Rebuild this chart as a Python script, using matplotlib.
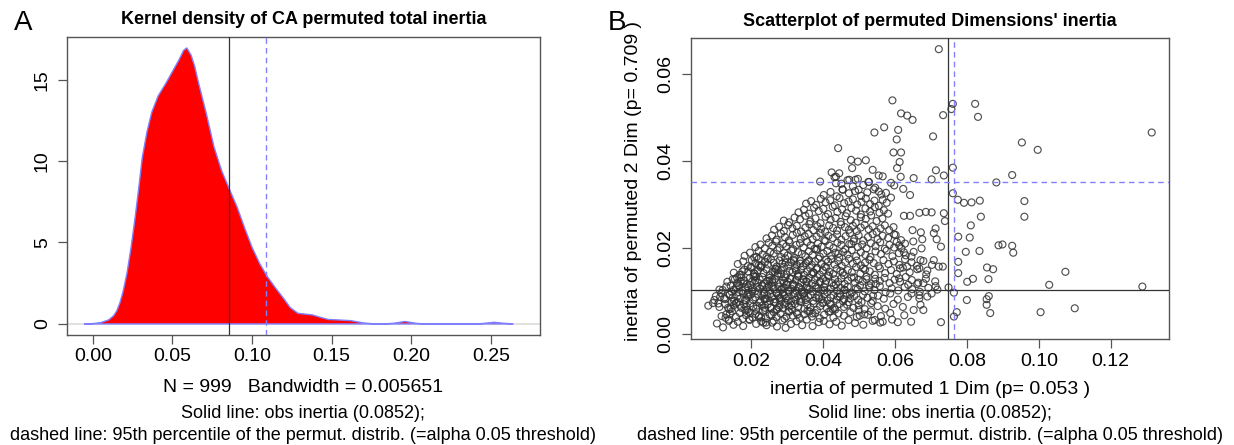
import matplotlib
matplotlib.use("Agg")
import matplotlib.pyplot as plt

plt.rcParams['font.family'] = ['Liberation Sans', 'DejaVu Sans']

# kernel density of permuted total inertia
dens_x = [-0.0055, 0.000, 0.005, 0.010, 0.013, 0.015, 0.017, 0.019, 0.0214, 0.024,
          0.0265, 0.029, 0.031, 0.034, 0.037, 0.041, 0.046, 0.050, 0.054, 0.057,
          0.059, 0.0617, 0.064, 0.0665, 0.0713, 0.076, 0.0809, 0.0852, 0.0905, 0.0953,
          0.100, 0.1048, 0.1096, 0.1144, 0.1192, 0.124, 0.1288, 0.1336, 0.138, 0.143,
          0.148, 0.153, 0.162, 0.170, 0.177, 0.182, 0.189, 0.196, 0.203, 0.208,
          0.242, 0.246, 0.252, 0.258, 0.264]
dens_y = [0.0, 0.02, 0.08, 0.25, 0.5, 0.8, 1.3, 2.0, 3.1, 4.7,
          6.5, 8.5, 10.2, 11.8, 13.0, 14.0, 14.8, 15.5, 16.2, 16.8,
          16.95, 16.5, 15.8, 14.75, 12.9, 10.9, 9.4, 8.4, 7.2, 5.9,
          4.7, 3.7, 2.9, 2.25, 1.64, 1.0, 0.65, 0.6, 0.55, 0.4,
          0.27, 0.25, 0.2, 0.06, 0.0, 0.0, 0.04, 0.15, 0.04, 0.0,
          0.0, 0.04, 0.1, 0.04, 0.0]

obs_total = 0.0852
q95_total = 0.109

# permuted inertia of dimension 1 / dimension 2 (estimated from the scatter)
dim1 = [
    0.0105, 0.0122, 0.0138, 0.0151, 0.0163, 0.0178, 0.0196, 0.0214, 0.0228, 0.0243,
    0.0259, 0.0272, 0.0287, 0.0296, 0.0311, 0.0326, 0.0342, 0.0355, 0.0371, 0.0388,
    0.0402, 0.0418, 0.0437, 0.0452, 0.0471, 0.0489, 0.0512, 0.0538, 0.0559, 0.0592,
    0.0118, 0.0129, 0.0141, 0.0147, 0.0158, 0.0169, 0.0177, 0.0186, 0.0193, 0.0204,
    0.0212, 0.0221, 0.0233, 0.0241, 0.0252, 0.0263, 0.0271, 0.0282, 0.0293, 0.0304,
    0.0316, 0.0327, 0.0335, 0.0348, 0.0357, 0.0369, 0.0378, 0.0391, 0.0403, 0.0416,
    0.0429, 0.0443, 0.0458, 0.0476, 0.0494, 0.0515, 0.0533, 0.0561, 0.0587, 0.0626,
    0.0081, 0.0094, 0.0112, 0.0127, 0.0139, 0.0152, 0.0161, 0.0173, 0.0181, 0.0189,
    0.0197, 0.0206, 0.0214, 0.0223, 0.0231, 0.0239, 0.0246, 0.0255, 0.0264, 0.0272,
    0.0279, 0.0288, 0.0297, 0.0305, 0.0314, 0.0322, 0.0331, 0.0339, 0.0348, 0.0356,
    0.0365, 0.0374, 0.0383, 0.0392, 0.0401, 0.0411, 0.0422, 0.0434, 0.0446, 0.0458,
    0.0471, 0.0485, 0.0499, 0.0516, 0.0534, 0.0552, 0.0573, 0.0596, 0.0622, 0.0671,
    0.0098, 0.0114, 0.0128, 0.0141, 0.0153, 0.0162, 0.0171, 0.0178, 0.0186, 0.0192,
    0.0199, 0.0205, 0.0212, 0.0219, 0.0226, 0.0232, 0.0239, 0.0245, 0.0252, 0.0258,
    0.0265, 0.0271, 0.0278, 0.0284, 0.0291, 0.0297, 0.0304, 0.0311, 0.0318, 0.0324,
    0.0331, 0.0338, 0.0345, 0.0352, 0.0359, 0.0366, 0.0373, 0.0381, 0.0388, 0.0396,
    0.0404, 0.0412, 0.0421, 0.0429, 0.0438, 0.0447, 0.0456, 0.0466, 0.0476, 0.0487,
    0.0498, 0.0511, 0.0524, 0.0538, 0.0553, 0.0569, 0.0587, 0.0608, 0.0636, 0.0668,
    0.0112, 0.0131, 0.0146, 0.0158, 0.0167, 0.0176, 0.0184, 0.0191, 0.0198, 0.0204,
    0.0211, 0.0217, 0.0224, 0.0231, 0.0237, 0.0244, 0.0251, 0.0257, 0.0264, 0.0271,
    0.0277, 0.0284, 0.0291, 0.0298, 0.0305, 0.0312, 0.0319, 0.0326, 0.0333, 0.0341,
    0.0348, 0.0355, 0.0363, 0.0371, 0.0379, 0.0387, 0.0395, 0.0403, 0.0412, 0.0421,
    0.0430, 0.0439, 0.0449, 0.0459, 0.0469, 0.0480, 0.0491, 0.0503, 0.0516, 0.0529,
    0.0543, 0.0558, 0.0574, 0.0591, 0.0609, 0.0627, 0.0648, 0.0669, 0.0693, 0.0718,
    0.0134, 0.0149, 0.0161, 0.0172, 0.0181, 0.0189, 0.0196, 0.0203, 0.0210, 0.0217,
    0.0224, 0.0231, 0.0238, 0.0245, 0.0252, 0.0259, 0.0266, 0.0273, 0.0281, 0.0288,
    0.0295, 0.0302, 0.0309, 0.0317, 0.0324, 0.0331, 0.0339, 0.0346, 0.0354, 0.0361,
    0.0369, 0.0377, 0.0384, 0.0392, 0.0400, 0.0408, 0.0416, 0.0425, 0.0433, 0.0442,
    0.0451, 0.0460, 0.0469, 0.0479, 0.0489, 0.0499, 0.0510, 0.0521, 0.0533, 0.0545,
    0.0558, 0.0571, 0.0585, 0.0599, 0.0614, 0.0630, 0.0647, 0.0665, 0.0686, 0.0712,
    0.0152, 0.0168, 0.0181, 0.0192, 0.0201, 0.0210, 0.0219, 0.0227, 0.0235, 0.0243,
    0.0251, 0.0259, 0.0267, 0.0275, 0.0283, 0.0291, 0.0299, 0.0307, 0.0315, 0.0323,
    0.0331, 0.0339, 0.0347, 0.0356, 0.0364, 0.0373, 0.0382, 0.0391, 0.0400, 0.0409,
    0.0418, 0.0428, 0.0438, 0.0448, 0.0458, 0.0469, 0.0480, 0.0492, 0.0504, 0.0517,
    0.0530, 0.0544, 0.0558, 0.0573, 0.0589, 0.0605, 0.0622, 0.0641, 0.0662, 0.0687,
    0.0163, 0.0178, 0.0191, 0.0202, 0.0212, 0.0221, 0.0230, 0.0239, 0.0247, 0.0255,
    0.0263, 0.0271, 0.0279, 0.0287, 0.0295, 0.0303, 0.0311, 0.0319, 0.0327, 0.0336,
    0.0344, 0.0352, 0.0361, 0.0369, 0.0378, 0.0387, 0.0396, 0.0405, 0.0414, 0.0423,
    0.0432, 0.0442, 0.0452, 0.0462, 0.0472, 0.0483, 0.0494, 0.0505, 0.0517, 0.0529,
    0.0541, 0.0554, 0.0568, 0.0582, 0.0597, 0.0612, 0.0628, 0.0646, 0.0661, 0.0679,
    0.0182, 0.0197, 0.0209, 0.0221, 0.0232, 0.0243, 0.0253, 0.0263, 0.0273, 0.0283,
    0.0292, 0.0302, 0.0312, 0.0321, 0.0331, 0.0341, 0.0351, 0.0361, 0.0371, 0.0381,
    0.0391, 0.0401, 0.0412, 0.0423, 0.0434, 0.0445, 0.0456, 0.0468, 0.0480, 0.0492,
    0.0505, 0.0518, 0.0532, 0.0546, 0.0561, 0.0577, 0.0593, 0.0611, 0.0630, 0.0652,
    0.0212, 0.0226, 0.0238, 0.0249, 0.0259, 0.0269, 0.0279, 0.0289, 0.0298, 0.0307,
    0.0317, 0.0326, 0.0336, 0.0346, 0.0356, 0.0366, 0.0376, 0.0386, 0.0396, 0.0407,
    0.0418, 0.0429, 0.0440, 0.0451, 0.0462, 0.0473, 0.0485, 0.0497, 0.0509, 0.0521,
    0.0533, 0.0546, 0.0559, 0.0572, 0.0585, 0.0598, 0.0605, 0.0612, 0.0618, 0.0628,
    0.0243, 0.0258, 0.0271, 0.0283, 0.0294, 0.0305, 0.0316, 0.0327, 0.0338, 0.0349,
    0.0360, 0.0371, 0.0382, 0.0393, 0.0404, 0.0415, 0.0427, 0.0439, 0.0451, 0.0463,
    0.0475, 0.0487, 0.0499, 0.0512, 0.0525, 0.0538, 0.0552, 0.0566, 0.0581, 0.0598,
    0.0264, 0.0278, 0.0291, 0.0303, 0.0315, 0.0327, 0.0339, 0.0351, 0.0362, 0.0373,
    0.0384, 0.0395, 0.0406, 0.0417, 0.0428, 0.0439, 0.0450, 0.0461, 0.0472, 0.0483,
    0.0494, 0.0505, 0.0516, 0.0527, 0.0538, 0.0549, 0.0560, 0.0572, 0.0584, 0.0596,
    0.0291, 0.0306, 0.0321, 0.0336, 0.0351, 0.0365, 0.0379, 0.0393, 0.0407, 0.0421,
    0.0435, 0.0449, 0.0463, 0.0477, 0.0491, 0.0505, 0.0519, 0.0534, 0.0549, 0.0565,
    0.0332, 0.0347, 0.0361, 0.0375, 0.0388, 0.0401, 0.0414, 0.0427, 0.0440, 0.0453,
    0.0466, 0.0479, 0.0492, 0.0505, 0.0518, 0.0531, 0.0544, 0.0557, 0.0569, 0.0581,
    0.0353, 0.0367, 0.0381, 0.0394, 0.0407, 0.0420, 0.0433, 0.0446, 0.0459, 0.0471,
    0.0483, 0.0495, 0.0507, 0.0519, 0.0531, 0.0543, 0.0555, 0.0566, 0.0577, 0.0589,
    0.0402, 0.0421, 0.0438, 0.0455, 0.0472, 0.0489, 0.0506, 0.0523, 0.0541, 0.0562,
    0.0432, 0.0451, 0.0468, 0.0483, 0.0497, 0.0512, 0.0528, 0.0545, 0.0566, 0.0589,
    # dense core
    0.0236, 0.0171, 0.0312, 0.0198, 0.0284, 0.0357, 0.0149, 0.0263, 0.0406, 0.0221,
    0.0335, 0.0187, 0.0249, 0.0373, 0.0298, 0.0166, 0.0427, 0.0207, 0.0319, 0.0276,
    0.0192, 0.0345, 0.0228, 0.0158, 0.0389, 0.0269, 0.0303, 0.0215, 0.0447, 0.0329,
    0.0254, 0.0176, 0.0362, 0.0291, 0.0139, 0.0241, 0.0414, 0.0203, 0.0337, 0.0268,
    0.0309, 0.0183, 0.0226, 0.0381, 0.0257, 0.0163, 0.0348, 0.0292, 0.0211, 0.0436,
    0.0274, 0.0195, 0.0322, 0.0144, 0.0237, 0.0398, 0.0286, 0.0173, 0.0354, 0.0246,
    0.0217, 0.0306, 0.0259, 0.0189, 0.0368, 0.0231, 0.0461, 0.0281, 0.0152, 0.0325,
    0.0341, 0.0208, 0.0271, 0.0178, 0.0419, 0.0296, 0.0234, 0.0384, 0.0161, 0.0262,
    0.0199, 0.0316, 0.0243, 0.0371, 0.0289, 0.0168, 0.0331, 0.0222, 0.0403, 0.0277,
    0.0251, 0.0184, 0.0358, 0.0302, 0.0214, 0.0441, 0.0265, 0.0147, 0.0333, 0.0239,
    0.0475, 0.0392, 0.0507, 0.0455, 0.0528, 0.0421, 0.0486, 0.0539, 0.0467, 0.0512,
    0.0443, 0.0496, 0.0384, 0.0521, 0.0458, 0.0409, 0.0547, 0.0431, 0.0479, 0.0502,
    0.0125, 0.0136, 0.0117, 0.0143, 0.0109, 0.0131, 0.0121, 0.0155, 0.0102, 0.0138,
    # sparse points
    0.0722, 0.0593, 0.0761, 0.0757, 0.0823, 0.0831, 0.0617, 0.0634, 0.0649, 0.0734,
    0.0570, 0.0543, 0.0609, 0.0605, 0.0706, 0.1314, 0.0953, 0.0997, 0.0442, 0.0596,
    0.0617, 0.0613, 0.0478, 0.0497, 0.0519, 0.0481, 0.0606, 0.0538, 0.0714, 0.0761,
    0.0926, 0.0424, 0.0445, 0.0392, 0.0436, 0.0473, 0.0490, 0.0526, 0.0555, 0.0616,
    0.0652, 0.0702, 0.0736, 0.0882, 0.0436, 0.0454, 0.0499, 0.0598, 0.0623, 0.0642,
    0.0555, 0.0575, 0.0761, 0.0775, 0.0792, 0.0813, 0.0836, 0.0960, 0.0960, 0.0839,
    0.0811, 0.0776, 0.0808, 0.0888, 0.0899, 0.0926, 0.0929, 0.0835, 0.0797, 0.0776,
    0.0856, 0.0873, 0.1074, 0.0860, 0.0817, 0.0801, 0.0776, 0.1029, 0.1288, 0.0861,
    0.0855, 0.0800, 0.0855, 0.0865, 0.1005, 0.1100, 0.0772, 0.0764, 0.0728, 0.0764,
    0.0749, 0.0736, 0.0739, 0.0702, 0.0686, 0.0668, 0.0642, 0.0625, 0.0713, 0.0708,
    0.0716, 0.0728, 0.0649, 0.0672, 0.0676, 0.0651, 0.0674, 0.0617, 0.0602, 0.0646,
    0.0625, 0.0671, 0.0708, 0.0703, 0.0722, 0.0733, 0.0614, 0.0634, 0.0668, 0.0690,
    0.0612, 0.0637, 0.0662, 0.0679, 0.0713, 0.0646, 0.0668, 0.0690, 0.0702, 0.0652,
    0.0679, 0.0608, 0.0645, 0.0566, 0.0544, 0.0525, 0.0499,
]
dim2 = [
    0.0025, 0.0016, 0.0031, 0.0022, 0.0029, 0.0019, 0.0033, 0.0024, 0.0030, 0.0021,
    0.0027, 0.0018, 0.0032, 0.0015, 0.0024, 0.0030, 0.0021, 0.0034, 0.0019, 0.0028,
    0.0031, 0.0023, 0.0029, 0.0020, 0.0033, 0.0026, 0.0022, 0.0031, 0.0027, 0.0034,
    0.0042, 0.0038, 0.0047, 0.0053, 0.0040, 0.0049, 0.0036, 0.0044, 0.0052, 0.0039,
    0.0047, 0.0041, 0.0054, 0.0037, 0.0045, 0.0051, 0.0040, 0.0048, 0.0036, 0.0053,
    0.0043, 0.0050, 0.0038, 0.0046, 0.0054, 0.0041, 0.0049, 0.0037, 0.0045, 0.0052,
    0.0039, 0.0048, 0.0043, 0.0051, 0.0040, 0.0046, 0.0053, 0.0042, 0.0049, 0.0044,
    0.0066, 0.0072, 0.0063, 0.0070, 0.0058, 0.0067, 0.0074, 0.0061, 0.0069, 0.0057,
    0.0071, 0.0064, 0.0059, 0.0073, 0.0066, 0.0056, 0.0069, 0.0062, 0.0074, 0.0058,
    0.0067, 0.0060, 0.0072, 0.0064, 0.0057, 0.0070, 0.0063, 0.0075, 0.0059, 0.0068,
    0.0062, 0.0071, 0.0056, 0.0065, 0.0073, 0.0060, 0.0068, 0.0057, 0.0070, 0.0063,
    0.0074, 0.0061, 0.0067, 0.0058, 0.0072, 0.0065, 0.0059, 0.0070, 0.0063, 0.0068,
    0.0079, 0.0086, 0.0081, 0.0092, 0.0077, 0.0088, 0.0083, 0.0094, 0.0078, 0.0087,
    0.0091, 0.0080, 0.0085, 0.0093, 0.0076, 0.0089, 0.0082, 0.0090, 0.0077, 0.0086,
    0.0081, 0.0094, 0.0084, 0.0078, 0.0090, 0.0083, 0.0087, 0.0076, 0.0092, 0.0080,
    0.0088, 0.0082, 0.0093, 0.0079, 0.0086, 0.0091, 0.0077, 0.0084, 0.0089, 0.0081,
    0.0092, 0.0078, 0.0085, 0.0090, 0.0080, 0.0087, 0.0076, 0.0093, 0.0083, 0.0088,
    0.0079, 0.0091, 0.0084, 0.0077, 0.0089, 0.0082, 0.0094, 0.0080, 0.0086, 0.0090,
    0.0103, 0.0110, 0.0098, 0.0106, 0.0112, 0.0100, 0.0108, 0.0096, 0.0114, 0.0104,
    0.0099, 0.0109, 0.0105, 0.0113, 0.0097, 0.0107, 0.0101, 0.0111, 0.0104, 0.0095,
    0.0110, 0.0102, 0.0107, 0.0114, 0.0098, 0.0105, 0.0112, 0.0100, 0.0108, 0.0103,
    0.0096, 0.0111, 0.0104, 0.0099, 0.0113, 0.0106, 0.0101, 0.0109, 0.0097, 0.0105,
    0.0112, 0.0100, 0.0107, 0.0103, 0.0110, 0.0096, 0.0106, 0.0113, 0.0099, 0.0108,
    0.0102, 0.0111, 0.0097, 0.0106, 0.0101, 0.0109, 0.0104, 0.0098, 0.0107, 0.0103,
    0.0121, 0.0127, 0.0118, 0.0131, 0.0124, 0.0116, 0.0129, 0.0122, 0.0134, 0.0119,
    0.0126, 0.0132, 0.0117, 0.0123, 0.0130, 0.0120, 0.0127, 0.0135, 0.0118, 0.0125,
    0.0131, 0.0121, 0.0128, 0.0116, 0.0124, 0.0133, 0.0119, 0.0126, 0.0122, 0.0130,
    0.0117, 0.0125, 0.0132, 0.0120, 0.0128, 0.0123, 0.0134, 0.0118, 0.0127, 0.0121,
    0.0129, 0.0116, 0.0124, 0.0131, 0.0119, 0.0126, 0.0122, 0.0133, 0.0117, 0.0128,
    0.0123, 0.0130, 0.0118, 0.0126, 0.0121, 0.0132, 0.0125, 0.0119, 0.0128, 0.0122,
    0.0142, 0.0137, 0.0149, 0.0145, 0.0153, 0.0139, 0.0147, 0.0154, 0.0141, 0.0150,
    0.0136, 0.0144, 0.0151, 0.0140, 0.0148, 0.0155, 0.0138, 0.0146, 0.0143, 0.0152,
    0.0140, 0.0149, 0.0137, 0.0145, 0.0153, 0.0142, 0.0150, 0.0138, 0.0147, 0.0154,
    0.0144, 0.0139, 0.0151, 0.0146, 0.0136, 0.0148, 0.0143, 0.0155, 0.0140, 0.0149,
    0.0145, 0.0137, 0.0152, 0.0141, 0.0148, 0.0139, 0.0154, 0.0143, 0.0150, 0.0138,
    0.0162, 0.0168, 0.0157, 0.0171, 0.0164, 0.0174, 0.0159, 0.0167, 0.0161, 0.0173,
    0.0165, 0.0156, 0.0170, 0.0163, 0.0175, 0.0158, 0.0166, 0.0172, 0.0160, 0.0169,
    0.0157, 0.0164, 0.0171, 0.0160, 0.0168, 0.0174, 0.0162, 0.0156, 0.0167, 0.0173,
    0.0161, 0.0169, 0.0158, 0.0166, 0.0174, 0.0163, 0.0170, 0.0159, 0.0165, 0.0172,
    0.0164, 0.0157, 0.0171, 0.0162, 0.0168, 0.0160, 0.0173, 0.0166, 0.0158, 0.0169,
    0.0181, 0.0188, 0.0177, 0.0192, 0.0184, 0.0179, 0.0190, 0.0186, 0.0194, 0.0178,
    0.0187, 0.0182, 0.0193, 0.0176, 0.0189, 0.0185, 0.0180, 0.0191, 0.0183, 0.0195,
    0.0179, 0.0186, 0.0192, 0.0181, 0.0188, 0.0177, 0.0190, 0.0184, 0.0194, 0.0180,
    0.0189, 0.0183, 0.0178, 0.0191, 0.0185, 0.0193, 0.0180, 0.0187, 0.0182, 0.0190,
    0.0201, 0.0207, 0.0198, 0.0211, 0.0204, 0.0214, 0.0199, 0.0208, 0.0203, 0.0212,
    0.0196, 0.0206, 0.0210, 0.0200, 0.0213, 0.0205, 0.0197, 0.0209, 0.0202, 0.0215,
    0.0204, 0.0199, 0.0211, 0.0206, 0.0196, 0.0208, 0.0214, 0.0201, 0.0207, 0.0198,
    0.0210, 0.0203, 0.0212, 0.0197, 0.0206, 0.0200, 0.0213, 0.0205, 0.0198, 0.0209,
    0.0221, 0.0228, 0.0218, 0.0232, 0.0224, 0.0216, 0.0229, 0.0234, 0.0220, 0.0226,
    0.0231, 0.0219, 0.0225, 0.0233, 0.0217, 0.0227, 0.0222, 0.0230, 0.0218, 0.0226,
    0.0233, 0.0220, 0.0228, 0.0216, 0.0224, 0.0231, 0.0219, 0.0227, 0.0222, 0.0230,
    0.0241, 0.0248, 0.0238, 0.0252, 0.0244, 0.0250, 0.0237, 0.0246, 0.0254, 0.0240,
    0.0249, 0.0243, 0.0236, 0.0251, 0.0245, 0.0239, 0.0253, 0.0247, 0.0241, 0.0250,
    0.0238, 0.0246, 0.0252, 0.0242, 0.0249, 0.0236, 0.0244, 0.0251, 0.0240, 0.0247,
    0.0262, 0.0258, 0.0269, 0.0265, 0.0273, 0.0260, 0.0267, 0.0256, 0.0271, 0.0264,
    0.0268, 0.0259, 0.0272, 0.0263, 0.0257, 0.0270, 0.0266, 0.0274, 0.0261, 0.0267,
    0.0281, 0.0287, 0.0278, 0.0292, 0.0284, 0.0289, 0.0277, 0.0294, 0.0282, 0.0288,
    0.0279, 0.0291, 0.0285, 0.0276, 0.0290, 0.0283, 0.0293, 0.0280, 0.0286, 0.0278,
    0.0301, 0.0307, 0.0298, 0.0312, 0.0304, 0.0309, 0.0297, 0.0314, 0.0302, 0.0306,
    0.0311, 0.0299, 0.0305, 0.0313, 0.0300, 0.0308, 0.0296, 0.0310, 0.0303, 0.0315,
    0.0321, 0.0328, 0.0318, 0.0333, 0.0325, 0.0330, 0.0319, 0.0327, 0.0334, 0.0322,
    0.0362, 0.0347, 0.0355, 0.0341, 0.0358, 0.0344, 0.0351, 0.0338, 0.0364, 0.0349,
    # dense core
    0.0093, 0.0122, 0.0067, 0.0049, 0.0138, 0.0104, 0.0085, 0.0031, 0.0117, 0.0159,
    0.0076, 0.0064, 0.0112, 0.0143, 0.0041, 0.0097, 0.0058, 0.0133, 0.0169, 0.0089,
    0.0108, 0.0127, 0.0039, 0.0071, 0.0083, 0.0151, 0.0101, 0.0178, 0.0094, 0.0046,
    0.0061, 0.0145, 0.0053, 0.0119, 0.0091, 0.0027, 0.0136, 0.0099, 0.0163, 0.0074,
    0.0129, 0.0079, 0.0157, 0.0106, 0.0044, 0.0113, 0.0087, 0.0069, 0.0123, 0.0115,
    0.0148, 0.0035, 0.0095, 0.0059, 0.0081, 0.0072, 0.0106, 0.0137, 0.0121, 0.0174,
    0.0066, 0.0052, 0.0126, 0.0091, 0.0139, 0.0111, 0.0102, 0.0084, 0.0103, 0.0147,
    0.0098, 0.0141, 0.0057, 0.0118, 0.0071, 0.0165, 0.0027, 0.0153, 0.0131, 0.0108,
    0.0155, 0.0114, 0.0082, 0.0048, 0.0096, 0.0068, 0.0135, 0.0043, 0.0101, 0.0062,
    0.0124, 0.0055, 0.0168, 0.0078, 0.0133, 0.0087, 0.0144, 0.0075, 0.0109, 0.0061,
    0.0092, 0.0121, 0.0074, 0.0142, 0.0113, 0.0053, 0.0131, 0.0089, 0.0068, 0.0152,
    0.0186, 0.0104, 0.0197, 0.0127, 0.0081, 0.0172, 0.0116, 0.0061, 0.0208, 0.0043,
    0.0083, 0.0061, 0.0095, 0.0112, 0.0071, 0.0046, 0.0102, 0.0127, 0.0088, 0.0034,
    # sparse points
    0.0657, 0.0539, 0.0531, 0.0519, 0.0531, 0.0501, 0.0509, 0.0504, 0.0494, 0.0505,
    0.0477, 0.0465, 0.0471, 0.0449, 0.0456, 0.0465, 0.0442, 0.0425, 0.0429, 0.0419,
    0.0419, 0.0397, 0.0402, 0.0398, 0.0401, 0.0383, 0.0383, 0.0379, 0.0378, 0.0384,
    0.0367, 0.0373, 0.0371, 0.0352, 0.0363, 0.0356, 0.0356, 0.0351, 0.0366, 0.0363,
    0.0360, 0.0357, 0.0366, 0.0350, 0.0348, 0.0334, 0.0333, 0.0343, 0.0335, 0.0321,
    0.0329, 0.0326, 0.0325, 0.0310, 0.0303, 0.0304, 0.0308, 0.0307, 0.0271, 0.0271,
    0.0251, 0.0225, 0.0223, 0.0205, 0.0207, 0.0204, 0.0188, 0.0192, 0.0190, 0.0167,
    0.0154, 0.0150, 0.0144, 0.0127, 0.0128, 0.0121, 0.0141, 0.0114, 0.0110, 0.0088,
    0.0081, 0.0079, 0.0068, 0.0049, 0.0051, 0.0060, 0.0051, 0.0041, 0.0028, 0.0096,
    0.0108, 0.0279, 0.0261, 0.0281, 0.0282, 0.0280, 0.0273, 0.0273, 0.0244, 0.0233,
    0.0219, 0.0202, 0.0240, 0.0235, 0.0219, 0.0214, 0.0198, 0.0217, 0.0229, 0.0179,
    0.0189, 0.0171, 0.0171, 0.0160, 0.0156, 0.0156, 0.0152, 0.0156, 0.0152, 0.0147,
    0.0129, 0.0114, 0.0116, 0.0118, 0.0111, 0.0094, 0.0083, 0.0087, 0.0094, 0.0056,
    0.0056, 0.0028, 0.0029, 0.0029, 0.0033, 0.0045, 0.0056,
]

obs_dim1, q95_dim1 = 0.0747, 0.0763
obs_dim2, q95_dim2 = 0.0101, 0.0352

caption1 = "Solid line: obs inertia (0.0852);"
caption2 = "dashed line: 95th percentile of the permut. distrib. (=alpha 0.05 threshold)"

line_blue = '#8080ff'
frame = '#555555'

fig = plt.figure(figsize=(12.34, 4.45), dpi=100)
ax1 = fig.add_axes([0.0541, 0.2472, 0.3836, 0.6697])
ax2 = fig.add_axes([0.5597, 0.2375, 0.3876, 0.6764])

for ax in (ax1, ax2):
    for sp in ax.spines.values():
        sp.set_color(frame)
        sp.set_linewidth(1.0)
    ax.tick_params(direction='out', length=6.5, width=0.9, color=frame,
                   labelsize=14, pad=3)
    ax.tick_params(axis='y', pad=5)

# panel A: density
ax1.axhline(0, color='#dcdcdc', lw=1.2, zorder=1)
ax1.fill(dens_x, dens_y, facecolor='red', edgecolor=line_blue, lw=1.0, zorder=2)
ax1.axvline(obs_total, color='#333333', lw=0.9, zorder=3)
ax1.axvline(q95_total, color=line_blue, lw=1.0, ls=(0, (4, 3)), zorder=3)
ax1.set_xlim(-0.0164, 0.2809)
ax1.set_ylim(-0.68, 17.62)
ax1.set_xticks([0.00, 0.05, 0.10, 0.15, 0.20, 0.25])
ax1.set_xticklabels(['0.00', '0.05', '0.10', '0.15', '0.20', '0.25'])
ax1.set_yticks([0, 5, 10, 15])
ax1.set_yticklabels(['0', '5', '10', '15'], rotation=90, va='center')
ax1.set_title("Kernel density of CA permuted total inertia", fontsize=13,
              fontweight='bold', pad=9)

# panel B: scatter
ax2.scatter(dim1, dim2, s=25, facecolors='none', edgecolors='#333333',
            linewidths=0.85, alpha=0.85, zorder=2)
ax2.axvline(obs_dim1, color='#333333', lw=0.9, zorder=3)
ax2.axhline(obs_dim2, color='#333333', lw=0.9, zorder=3)
ax2.axvline(q95_dim1, color=line_blue, lw=1.0, ls=(0, (4, 3)), zorder=3)
ax2.axhline(q95_dim2, color=line_blue, lw=1.0, ls=(0, (4, 3)), zorder=3)
ax2.set_xlim(0.0032, 0.1362)
ax2.set_ylim(-0.00115, 0.0682)
ax2.set_xticks([0.02, 0.04, 0.06, 0.08, 0.10, 0.12])
ax2.set_xticklabels(['0.02', '0.04', '0.06', '0.08', '0.10', '0.12'])
ax2.set_yticks([0.00, 0.02, 0.04, 0.06])
ax2.set_yticklabels(['0.00', '0.02', '0.04', '0.06'], rotation=90, va='center')
ax2.set_title("Scatterplot of permuted Dimensions' inertia", fontsize=13,
              fontweight='bold', pad=9)

# labels and captions
W, H = 1234.0, 445.0
fig.text(23 / W, 1 - 23 / H, "A", fontsize=20, ha='center', va='center')
fig.text(617 / W, 1 - 23 / H, "B", fontsize=20, ha='center', va='center')

fig.text(303 / W, 1 - 387 / H, "N = 999   Bandwidth = 0.005651", fontsize=14,
         ha='center', va='center')
fig.text(930 / W, 1 - 389 / H, "inertia of permuted 1 Dim (p= 0.053 )", fontsize=14,
         ha='center', va='center')
fig.text(633 / W, 1 - 181 / H, "inertia of permuted 2 Dim (p= 0.709 )", fontsize=14,
         ha='center', va='center', rotation=90)

for cx in (303, 930):
    fig.text(cx / W, 1 - 413 / H, caption1, fontsize=13, ha='center', va='center')
    fig.text(cx / W, 1 - 435 / H, caption2, fontsize=13, ha='center', va='center')

fig.savefig("out.png", dpi=100)
